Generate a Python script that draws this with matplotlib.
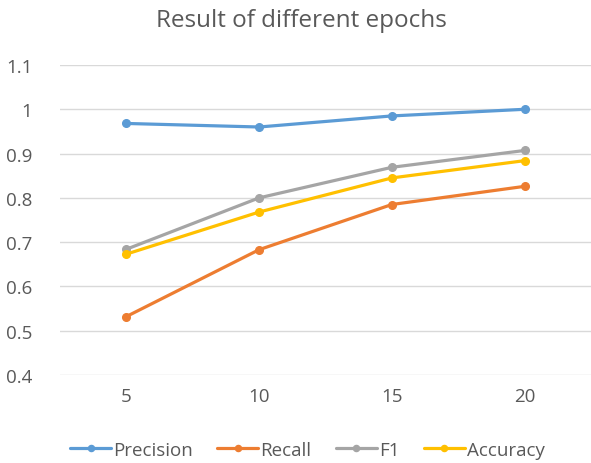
import matplotlib.pyplot as plt

# epochs on the category axis
epochs = ["5", "10", "15", "20"]

precision = [0.968, 0.960, 0.985, 1.000]
recall = [0.532, 0.683, 0.785, 0.826]
f1 = [0.684, 0.800, 0.869, 0.907]
accuracy = [0.673, 0.768, 0.845, 0.884]

y_ticks = [0.4, 0.5, 0.6, 0.7, 0.8, 0.9, 1.0, 1.1]
y_labels = ["0.4", "0.5", "0.6", "0.7", "0.8", "0.9", "1", "1.1"]

plt.rcParams["font.family"] = ["Open Sans", "DejaVu Sans"]

fig = plt.figure(figsize=(5.91, 4.64), dpi=100)
ax = fig.add_axes([60 / 591, 88 / 464, 531 / 591, 310 / 464])

series = [
    ("Precision", precision, "#5B9BD5"),
    ("Recall", recall, "#ED7D31"),
    ("F1", f1, "#A5A5A5"),
    ("Accuracy", accuracy, "#FFC000"),
]
x = list(range(len(epochs)))
for name, vals, color in series:
    ax.plot(x, vals, color=color, lw=2.3, marker="o", ms=5.5, label=name,
            solid_capstyle="round")

ax.set_xlim(-0.5, len(epochs) - 0.5)
ax.set_ylim(0.4, 1.1)
ax.set_yticks(y_ticks)
ax.set_yticklabels(y_labels)
ax.set_xticks(x)
ax.set_xticklabels(epochs)
ax.grid(axis="y", color="#D9D9D9", lw=1)
ax.set_axisbelow(True)
for s in ax.spines.values():
    s.set_visible(False)
ax.tick_params(length=0, labelsize=13.5, colors="#595959", pad=9)
ax.tick_params(axis="y", pad=20)

fig.text(0.51, 0.955, "Result of different epochs", ha="center", va="center",
         fontsize=17.5, color="#595959")

leg = fig.legend(loc="center", bbox_to_anchor=(0.52, 0.028), ncol=4, frameon=False,
                 fontsize=13.5, handlelength=2.2, handletextpad=0.1,
                 columnspacing=1.3, borderaxespad=0, markerscale=0.8)
for t in leg.get_texts():
    t.set_color("#595959")

fig.savefig("out.png", dpi=100)
